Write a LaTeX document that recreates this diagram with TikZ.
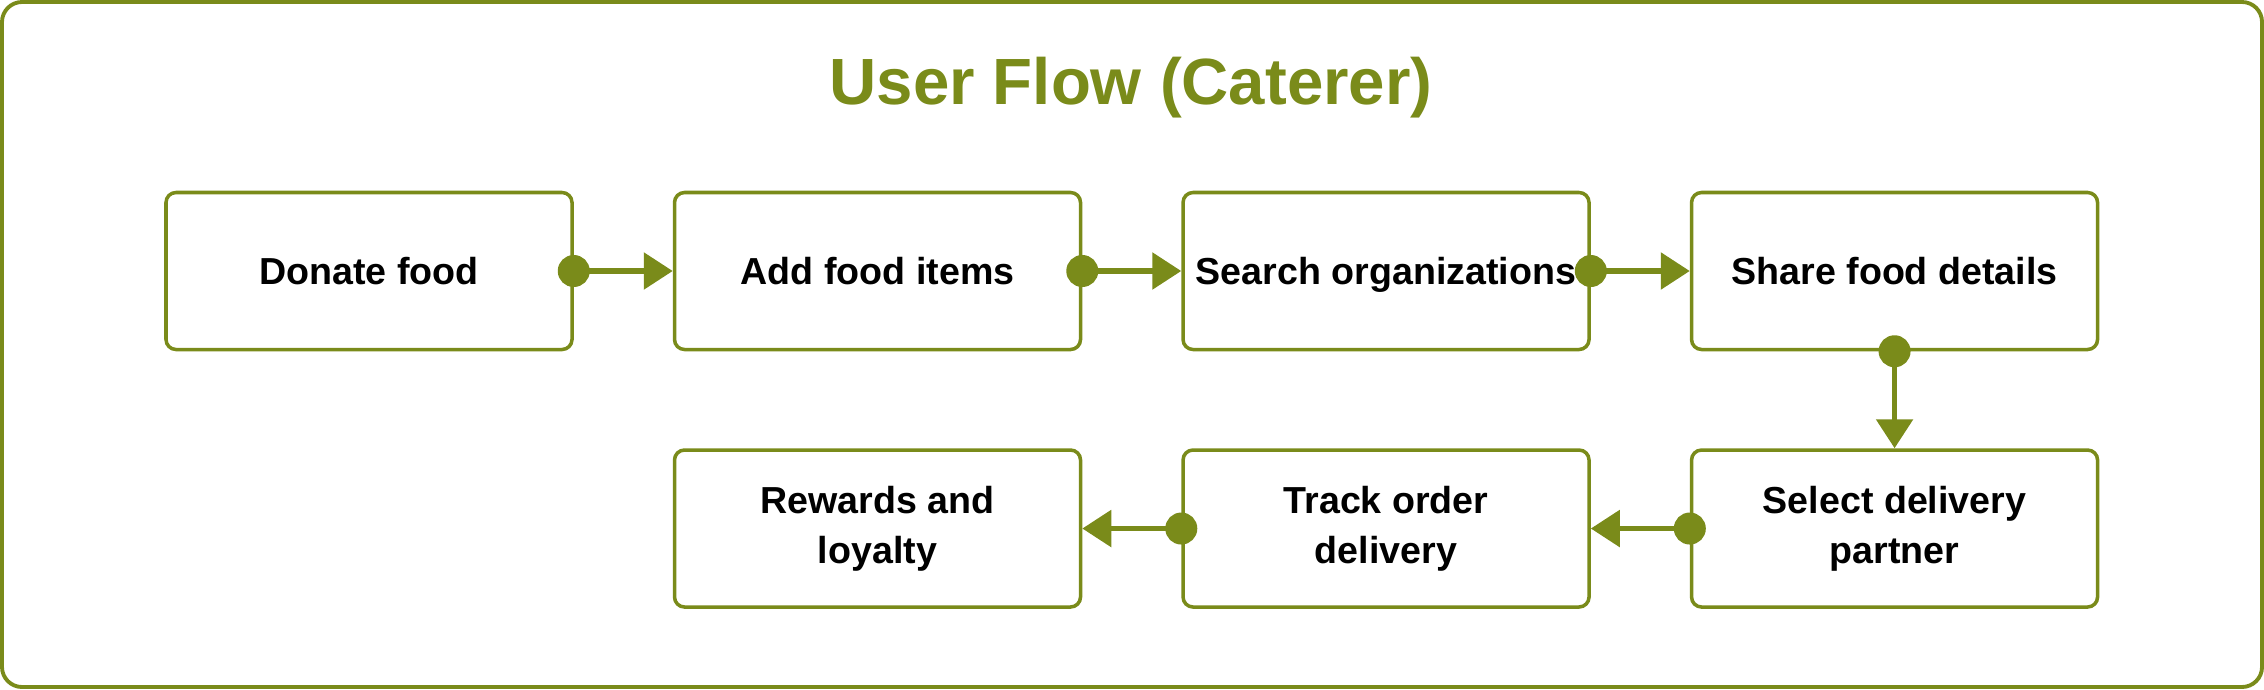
\documentclass[tikz,border=0pt]{standalone}
\usepackage{fontspec}
\setmainfont{Liberation Sans}
\usetikzlibrary{positioning,arrows.meta}
\definecolor{olivegreen}{RGB}{122,139,26}
\begin{document}
\begin{tikzpicture}[
    stepbox/.style={draw=olivegreen,line width=1pt,rounded corners=0.1cm,
      minimum width=4.06cm,minimum height=1.57cm,align=center,
      font=\bfseries\fontsize{10.7}{14.3}\selectfont},
    flow/.style={draw=olivegreen,line width=1.6pt,
      {Circle[length=0.32cm]}-{Triangle[length=0.29cm,width=0.36cm]},
      shorten <=-0.16cm},
    node distance=0.97cm and 0.99cm]
        \useasboundingbox (0,0) rectangle (22.64,6.89);
        \draw[olivegreen,line width=1.1pt,rounded corners=0.2cm] (0.02,0.02) rectangle (22.62,6.87);
        \node[text=olivegreen,font=\bfseries\fontsize{18.6}{22}\selectfont] (title) at (11.31,6.01) {User Flow (Caterer)};
        \node[stepbox] (donate) at (3.69,4.18) {Donate food};
        \node[stepbox,right=of donate] (additems) {Add food items};
        \node[stepbox,right=of additems,text depth=0pt] (search) {Search organizations};
        \node[stepbox,right=of search] (share) {Share food details};
        \node[stepbox,below=of share] (partner) {Select delivery\\partner};
        \node[stepbox,left=of partner] (track) {Track order\\delivery};
        \node[stepbox,left=of track] (rewards) {Rewards and\\loyalty};
        \draw[flow] (donate.east) -- (additems.west);
        \draw[flow] (additems.east) -- (search.west);
        \draw[flow] (search.east) -- (share.west);
        \draw[flow] (share.south) -- (partner.north);
        \draw[flow] (partner.west) -- (track.east);
        \draw[flow] (track.west) -- (rewards.east);
        \end{tikzpicture}
\end{document}
